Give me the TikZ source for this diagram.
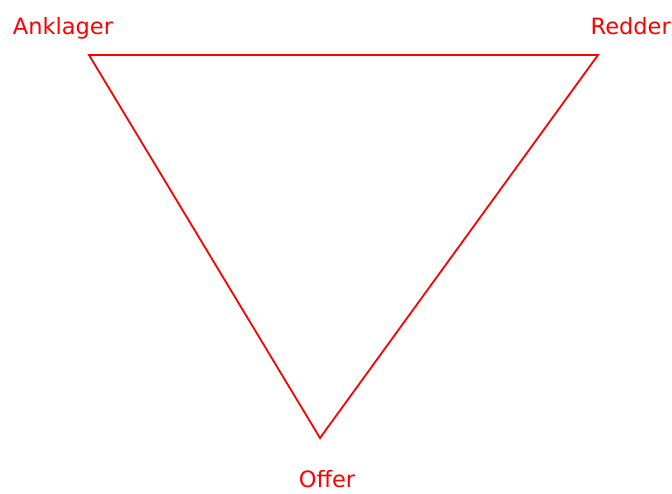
\documentclass[tikz,border=0pt]{standalone}
\usepackage{fontspec}
\setmainfont{DejaVu Sans}
\definecolor{triangred}{HTML}{FF0000}

\begin{document}
\begin{tikzpicture}[
  x=1pt,
  y=-1pt,
  every node/.style={font=\fontsize{22.5}{27}\selectfont, text=triangred, inner sep=0pt},
  edge/.style={triangred, line width=1.8pt, line join=miter}
]
  \useasboundingbox (0,0) rectangle (672,493);

  \coordinate (anklager) at (89,55);
  \coordinate (redder) at (598,55);
  \coordinate (offer) at (320,438);

  \draw[edge] (anklager) -- (redder) -- (offer) -- cycle;

  \node[anchor=base] (lblA) at (63,34) {Anklager};
  \node[anchor=base east] (lblR) at (671,34) {Redder};
  \node[anchor=base] (lblO) at (327,487) {Offer};
\end{tikzpicture}
\end{document}
